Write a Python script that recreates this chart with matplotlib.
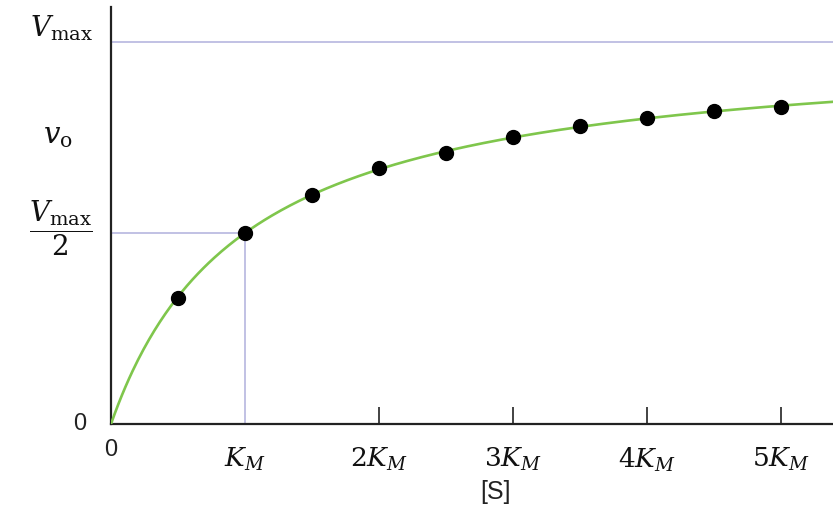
import matplotlib.pyplot as plt
import numpy as np

plt.rcParams['mathtext.fontset'] = 'dejavuserif'

# Parametros de Michaelis-Menten (unidades de Vmax y KM)
vmax = 1.0
km = 1.0

# Puntos experimentales: [S] en multiplos de KM, v0 en fracciones de Vmax
s_puntos = [0.5, 1.0, 1.5, 2.0, 2.5, 3.0, 3.5, 4.0, 4.5, 5.0]
v_puntos = [0.33, 0.50, 0.60, 0.67, 0.71, 0.75, 0.78, 0.80, 0.82, 0.83]

# Etiquetas del eje x
x_ticks = [1, 2, 3, 4, 5]
x_labels = [r'$K_M$', r'$2K_M$', r'$3K_M$', r'$4K_M$', r'$5K_M$']

verde = '#7fc64c'
lila = '#b0b0dc'

fig = plt.figure(figsize=(8.33, 5.08), dpi=100)
ax = fig.add_axes([111 / 833, 84 / 508, 722 / 833, 417 / 508])

xmax = 722 / 134
ax.set_xlim(0, xmax)
ax.set_ylim(0, 417 / 382)

# Curva teorica
s = np.linspace(0, xmax, 400)
ax.plot(s, vmax * s / (km + s), color=verde, lw=1.9, zorder=3)

# Lineas guia
ax.axhline(vmax, color=lila, lw=1.1, zorder=1)
ax.plot([0, km], [vmax / 2, vmax / 2], color=lila, lw=1.1, zorder=1)
ax.plot([km, km], [0, vmax / 2], color=lila, lw=1.1, zorder=1)

# Puntos
ax.scatter(s_puntos, v_puntos, s=100, color='black', zorder=4)

# Ejes
for lado in ['top', 'right']:
    ax.spines[lado].set_visible(False)
for lado in ['left', 'bottom']:
    ax.spines[lado].set_linewidth(1.6)
    ax.spines[lado].set_color('#222222')

ax.set_yticks([])
ax.set_xticks(x_ticks[1:])
ax.tick_params(axis='x', direction='in', length=12, width=1.2, color='#222222',
               labelbottom=False)

# Etiquetas del eje x
xt = ax.get_xaxis_transform()
ax.text(0, -0.062, '0', transform=xt, ha='center', va='center',
        fontsize=17, family='Liberation Sans', color='#222222')
for xv, lab in zip(x_ticks, x_labels):
    ax.text(xv, -0.085, lab, transform=xt, ha='center', va='center',
            fontsize=19, color='#111111')
ax.text(2.87, -0.163, '[S]', transform=xt, ha='center', va='center',
        fontsize=18, family='Liberation Sans', color='#222222')

# Etiquetas del eje y
yt = ax.get_yaxis_transform()
ax.text(-0.043, 0, '0', transform=yt, ha='center', va='center',
        fontsize=17, family='Liberation Sans', color='#222222')
ax.text(-0.069, 1.035, r'$V_{\mathrm{max}}$', transform=yt, ha='center',
        va='center', fontsize=20, color='#111111')
ax.text(-0.074, 0.755, r'$v_{\mathrm{o}}$', transform=yt, ha='center',
        va='center', fontsize=21, color='#111111')
ax.text(-0.069, 0.512, r'$\dfrac{V_{\mathrm{max}}}{2}$', transform=yt,
        ha='center', va='center', fontsize=20, color='#111111')

fig.savefig('out.png', dpi=100)
